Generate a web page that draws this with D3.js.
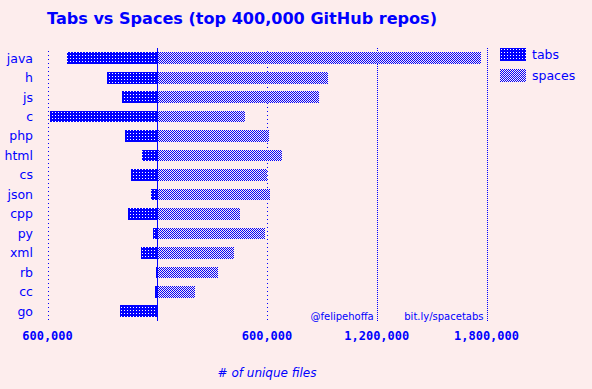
<!DOCTYPE html>
<html>
<head>
<meta charset="utf-8">
<script src="https://cdn.jsdelivr.net/npm/d3@7"></script>
<style>
  html, body { margin: 0; padding: 0; background: #fdeded; }
  svg { display: block; }
  text { fill: #0000ff; }
</style>
</head>
<body>
<svg id="chart"></svg>
<script>
let categories = ['java', 'h', 'js', 'c', 'php', 'html', 'cs', 'json', 'cpp', 'py', 'xml', 'rb', 'cc', 'go']
let tabs = [495000, 275000, 193000, 586000, 176000, 84000, 144000, 33000, 160000, 23000, 87000, 7000, 12000, 204000]
let spaces = [1769000, 933000, 884000, 479000, 610000, 681000, 601000, 614000, 452000, 588000, 419000, 332000, 204000, 0]
let tickValues = [-600000, 600000, 1200000, 1800000]
let seriesNames = ['tabs', 'spaces']

let width = 592
let height = 389
let blue = '#0000ff'

let svg = d3.select('#chart')
    .attr('width', width)
    .attr('height', height)

let defs = svg.append('defs')

// tabs: solid blue with little white dots
let pTabs = defs.append('pattern')
    .attr('id', 'pat-tabs')
    .attr('patternUnits', 'userSpaceOnUse')
    .attr('width', 3).attr('height', 3)
pTabs.append('rect').attr('width', 3).attr('height', 3).attr('fill', blue)
pTabs.append('rect').attr('x', 1).attr('y', 1).attr('width', 1).attr('height', 1).attr('fill', '#ffffff')

// spaces: 1px checkerboard
let pSpaces = defs.append('pattern')
    .attr('id', 'pat-spaces')
    .attr('patternUnits', 'userSpaceOnUse')
    .attr('width', 2).attr('height', 2)
pSpaces.append('rect').attr('width', 2).attr('height', 2).attr('fill', '#fdeded')
pSpaces.append('rect').attr('width', 1).attr('height', 1).attr('fill', blue)
pSpaces.append('rect').attr('x', 1).attr('y', 1).attr('width', 1).attr('height', 1).attr('fill', blue)

let xScale = d3.scaleLinear()
    .domain([-600000, 1800000])
    .range([47.5, 486.5])

let yScale = d3.scaleBand()
    .domain(categories)
    .range([48.5, 321])
    .paddingInner(0.4)
    .paddingOuter(0.2)

let values = categories.map((c, i) => ({ cat: c, tabs: tabs[i], spaces: spaces[i] }))

// grid lines
svg.append('g')
    .attr('shape-rendering', 'crispEdges')
    .selectAll('line')
    .data(tickValues)
    .enter()
    .append('line')
    .attr('x1', (d) => Math.round(xScale(d)) + 0.5)
    .attr('x2', (d) => Math.round(xScale(d)) + 0.5)
    .attr('y1', (d) => Math.abs(d) === 600000 ? 51 : 48)
    .attr('y2', 321)
    .attr('stroke', blue)
    .attr('stroke-width', 1)
    .attr('stroke-dasharray', (d) => Math.abs(d) === 600000 ? '1,3' : '1,1')

// tabs bars (to the left)
svg.append('g')
    .attr('shape-rendering', 'crispEdges')
    .selectAll('rect')
    .data(values)
    .enter()
    .append('rect')
    .attr('x', (item) => xScale(-item.tabs))
    .attr('y', (item) => yScale(item.cat))
    .attr('width', (item) => xScale(0) - xScale(-item.tabs))
    .attr('height', yScale.bandwidth())
    .attr('fill', 'url(#pat-tabs)')

// spaces bars (to the right)
svg.append('g')
    .attr('shape-rendering', 'crispEdges')
    .selectAll('rect')
    .data(values)
    .enter()
    .append('rect')
    .attr('x', xScale(0))
    .attr('y', (item) => yScale(item.cat))
    .attr('width', (item) => xScale(item.spaces) - xScale(0))
    .attr('height', yScale.bandwidth())
    .attr('fill', 'url(#pat-spaces)')

// zero line
svg.append('line')
    .attr('shape-rendering', 'crispEdges')
    .attr('x1', Math.round(xScale(0)) + 0.5)
    .attr('x2', Math.round(xScale(0)) + 0.5)
    .attr('y1', 48)
    .attr('y2', 321)
    .attr('stroke', blue)
    .attr('stroke-width', 1)

// category labels
svg.append('g')
    .selectAll('text')
    .data(categories)
    .enter()
    .append('text')
    .attr('x', 33)
    .attr('y', (d) => yScale(d) + yScale.bandwidth() / 2)
    .attr('dy', '0.35em')
    .attr('text-anchor', 'end')
    .style('font', '12.5px "DejaVu Sans", sans-serif')
    .text((d) => d)

// x tick labels
svg.append('g')
    .selectAll('text')
    .data(tickValues)
    .enter()
    .append('text')
    .attr('x', (d) => xScale(d))
    .attr('y', 340)
    .attr('text-anchor', 'middle')
    .style('font', 'bold 12px "DejaVu Sans Mono", monospace')
    .text((d) => d3.format(',')(Math.abs(d)))

// title
svg.append('text')
    .attr('x', 242)
    .attr('y', 24)
    .attr('text-anchor', 'middle')
    .attr('textLength', 390)
    .attr('lengthAdjust', 'spacingAndGlyphs')
    .style('font', 'bold 15px "DejaVu Sans", sans-serif')
    .text('Tabs vs Spaces (top 400,000 GitHub repos)')

// axis title
svg.append('text')
    .attr('x', xScale(600000))
    .attr('y', 377)
    .attr('text-anchor', 'middle')
    .style('font', 'italic 12px "DejaVu Sans", sans-serif')
    .text('# of unique files')

// credits
svg.append('text')
    .attr('x', xScale(1200000) - 3)
    .attr('y', 320)
    .attr('text-anchor', 'end')
    .style('font', '10px "DejaVu Sans", sans-serif')
    .text('@felipehoffa')

svg.append('text')
    .attr('x', xScale(1800000) - 3)
    .attr('y', 320)
    .attr('text-anchor', 'end')
    .style('font', '10px "DejaVu Sans", sans-serif')
    .text('bit.ly/spacetabs')

// legend
let legend = svg.append('g')
    .selectAll('g')
    .data(seriesNames)
    .enter()
    .append('g')
    .attr('transform', (d, i) => 'translate(500,' + (48 + i * 21) + ')')

legend.append('rect')
    .attr('width', 26)
    .attr('height', 13)
    .attr('shape-rendering', 'crispEdges')
    .attr('fill', (d) => 'url(#pat-' + d + ')')

legend.append('text')
    .attr('x', 32)
    .attr('y', 6.5)
    .attr('dy', '0.35em')
    .style('font', '12.5px "DejaVu Sans", sans-serif')
    .text((d) => d)
</script>
</body>
</html>
